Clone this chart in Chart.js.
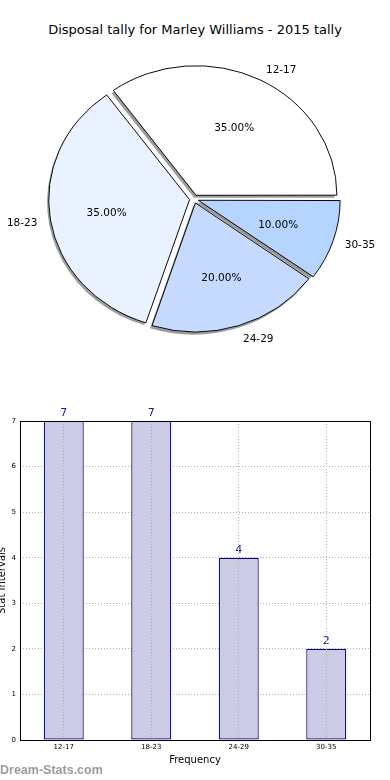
<!DOCTYPE html>
<html>
<head>
<meta charset="utf-8">
<script src="https://cdn.jsdelivr.net/npm/chart.js@4.4.0/dist/chart.umd.min.js"></script>
<style>
  body { margin: 0; background: #fff; width: 390px; height: 780px; position: relative; overflow: hidden; font-family: "DejaVu Sans", sans-serif; }
  #pieTitle { position: absolute; left: 0; top: 22px; width: 390px; text-align: center; font-size: 13px; line-height: 16px; color: #000; }
  #pieCanvas { position: absolute; left: 0; top: 0; }
  #barCanvas { position: absolute; left: 0; top: 380px; }
  #credit { position: absolute; left: 0; top: 762px; font: bold 12.5px "Liberation Sans", sans-serif; line-height: 16px; color: #9a9a9a; }
</style>
</head>
<body>
<div id="pieTitle"></div>
<canvas id="pieCanvas" width="390" height="380"></canvas>
<canvas id="barCanvas" width="390" height="400"></canvas>
<div id="credit">Dream-Stats.com</div>

<script>
/* ---------------------------------------------------------------
   DATA
   --------------------------------------------------------------- */
const chartTitle = "Disposal tally for Marley Williams - 2015 tally";
const categories = ["12-17", "18-23", "24-29", "30-35"];
const frequency = [7, 7, 4, 2];

/* ---------------------------------------------------------------
   STYLE
   --------------------------------------------------------------- */
const sliceColors = ["#ffffff", "#ebf2ff", "#c6d9ff", "#b5d5ff"];
const PIE_SQUASH = 0.92;    // pie is drawn a bit flatter than a circle
const EXPLODE = 18;         // chart.js arc offset (moves slice by offset/4)
const SHADOW = { dx: -2, dy: 2.5, color: "#9c9c9c" };

Chart.defaults.font.family = '"DejaVu Sans", sans-serif';
Chart.defaults.color = "#000";

document.getElementById("pieTitle").textContent = chartTitle;

/* ---------------------------------------------------------------
   1) PIE (counter-clockwise from 3 o'clock -> feed it reversed)
   --------------------------------------------------------------- */
const pieLabels = categories.slice().reverse();
const pieValues = frequency.slice().reverse();
const pieColors = sliceColors.slice().reverse();
const pieTotal = frequency.reduce((a, b) => a + b, 0);

function squash(ctx, arc) {
  ctx.translate(arc.x, arc.y);
  ctx.scale(1, PIE_SQUASH);
  ctx.translate(-arc.x, -arc.y);
}

const pieExtras = {
  id: "pieExtras",
  beforeDatasetsDraw(chart) {
    const ctx = chart.ctx;
    const arcs = chart.getDatasetMeta(0).data;
    const d = EXPLODE / 4;

    // shadows under every slice
    arcs.forEach(arc => {
      const mid = (arc.startAngle + arc.endAngle) / 2;
      ctx.save();
      ctx.translate(SHADOW.dx, SHADOW.dy);
      squash(ctx, arc);
      const x = arc.x + Math.cos(mid) * d;
      const y = arc.y + Math.sin(mid) * d;
      ctx.fillStyle = SHADOW.color;
      ctx.beginPath();
      ctx.moveTo(x, y);
      ctx.arc(x, y, arc.outerRadius + 0.5, arc.startAngle, arc.endAngle);
      ctx.closePath();
      ctx.fill();
      ctx.restore();
    });

    ctx.save();
    squash(ctx, arcs[0]);
  },
  afterDatasetsDraw(chart) {
    const ctx = chart.ctx;
    ctx.restore();

    const arcs = chart.getDatasetMeta(0).data;
    const d = EXPLODE / 4;
    ctx.save();
    ctx.font = '10.5px "DejaVu Sans"';
    ctx.fillStyle = "#000";
    ctx.textBaseline = "middle";
    arcs.forEach((arc, i) => {
      const mid = (arc.startAngle + arc.endAngle) / 2;
      const c = Math.cos(mid), s = Math.sin(mid);
      const r = arc.outerRadius;
      const vx = arc.x + c * d;
      const vy = arc.y + s * d * PIE_SQUASH + 1.5;

      ctx.textAlign = c > 0 ? "left" : "right";
      ctx.fillText(pieLabels[i], vx + c * 1.1 * r, vy + s * 1.1 * r * PIE_SQUASH);

      const pct = (pieValues[i] / pieTotal * 100).toFixed(2) + "%";
      ctx.textAlign = "center";
      ctx.fillText(pct, vx + c * 0.6 * r, vy + s * 0.6 * r * PIE_SQUASH);
    });
    ctx.restore();
  }
};

new Chart(document.getElementById("pieCanvas"), {
  type: "pie",
  data: {
    labels: pieLabels,
    datasets: [{
      data: pieValues,
      backgroundColor: pieColors,
      borderColor: "#000",
      borderWidth: 1,
      offset: EXPLODE,
      clip: false
    }]
  },
  options: {
    responsive: false,
    animation: false,
    events: [],
    rotation: 90,
    radius: 140,
    layout: { padding: { left: 0, right: 2, top: 18, bottom: 0 } },
    plugins: {
      legend: { display: false },
      tooltip: { enabled: false }
    }
  },
  plugins: [pieExtras]
});

/* ---------------------------------------------------------------
   2) BAR
   --------------------------------------------------------------- */
const barExtras = {
  id: "barExtras",
  afterDatasetsDraw(chart) {
    const ctx = chart.ctx;
    ctx.save();
    ctx.font = '11px "DejaVu Sans"';
    ctx.fillStyle = "#1a1a8c";
    ctx.textAlign = "center";
    ctx.textBaseline = "alphabetic";
    chart.getDatasetMeta(0).data.forEach((bar, i) => {
      ctx.fillText(String(frequency[i]), bar.x, bar.y - 5);
    });
    ctx.restore();
  },
  afterDraw(chart) {
    // black frame on all four sides
    const { left, top, width, height } = chart.chartArea;
    const ctx = chart.ctx;
    ctx.save();
    ctx.strokeStyle = "#000";
    ctx.lineWidth = 1;
    ctx.strokeRect(Math.round(left) + 0.5, Math.round(top) + 0.5, Math.round(width), Math.round(height));
    ctx.restore();
  }
};

new Chart(document.getElementById("barCanvas"), {
  type: "bar",
  data: {
    labels: categories,
    datasets: [{
      data: frequency,
      backgroundColor: "#cbcbe5",
      borderColor: "#00007a",
      borderWidth: 1.2,
      borderSkipped: false,
      barPercentage: 0.457,
      categoryPercentage: 1
    }]
  },
  options: {
    responsive: false,
    animation: false,
    events: [],
    layout: { padding: { left: 0, right: 20, top: 41, bottom: 0 } },
    plugins: {
      legend: { display: false },
      tooltip: { enabled: false }
    },
    scales: {
      x: {
        offset: true,
        grid: { offset: false, color: "#b0b0b0", drawTicks: false, z: 1 },
        border: { display: false, dash: [1, 2] },
        ticks: { font: { size: 7 }, padding: 3, color: "#000" },
        title: { display: true, text: "Frequency", font: { size: 10 }, padding: { top: 0, bottom: 14 } },
        afterFit(scale) { scale.height = 40; }
      },
      y: {
        min: 0,
        max: 7,
        grid: { color: "#b0b0b0", drawTicks: false },
        border: { display: false, dash: [1, 2] },
        ticks: { stepSize: 1, font: { size: 7 }, padding: 4, color: "#000" },
        title: { display: true, text: "Stat Intervals", font: { size: 10 }, padding: { top: -4, bottom: 0 } },
        afterFit(scale) { scale.width = 20; }
      }
    }
  },
  plugins: [barExtras]
});
</script>
</body>
</html>
